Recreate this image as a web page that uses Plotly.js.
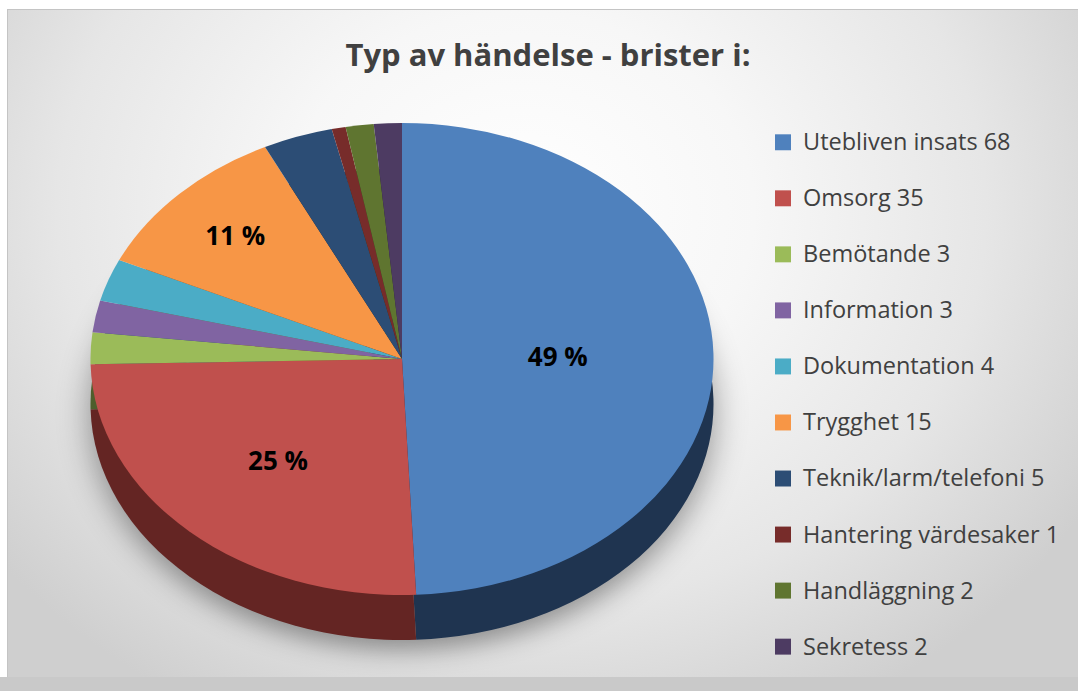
<!DOCTYPE html>
<html>
<head>
<meta charset="utf-8">
<script src="https://cdn.plot.ly/plotly-3.0.1.min.js"></script>
<style>
  html, body { margin: 0; padding: 0; background: #ffffff; width: 1078px; height: 691px; overflow: hidden; }
  #frame { position: absolute; left: 7px; top: 9px; width: 1070px; height: 668px;
    background: radial-gradient(ellipse 62% 85% at 48% 30%, #ffffff 0%, #f7f7f7 35%, #e6e6e6 70%, #cfcfcf 100%);
    border-top: 1px solid #c4c4c4; border-left: 1px solid #c4c4c4; }
  #band { position: absolute; left: 0; top: 677px; width: 1078px; height: 14px; background: #c9c9c9; }
  #chart { position: absolute; left: 0; top: 0; width: 1078px; height: 691px; }
</style>
</head>
<body>
<div id="frame"></div>
<div id="band"></div>
<div id="chart"></div>
<script>
// ---- data ----
const categories = ["Utebliven insats", "Omsorg", "Bemötande", "Information", "Dokumentation",
                    "Trygghet", "Teknik/larm/telefoni", "Hantering värdesaker", "Handläggning", "Sekretess"];
const values = [68, 35, 3, 3, 4, 15, 5, 1, 2, 2];
const topColors = ["#4F81BD", "#C0504D", "#9BBB59", "#8064A2", "#4BACC6",
                   "#F79646", "#2C4D75", "#772C2A", "#5F7530", "#4D3B62"];
const sideColors = ["#1F3450", "#642523", "#4E5E2C", "#403251", "#255663",
                    "#7B4B23", "#16263A", "#3B1615", "#2F3A18", "#261D31"];
const titleText = "Typ av händelse - brister i:";

const total = values.reduce((a, b) => a + b, 0);
const legendLabels = categories.map((c, i) =>
  " <br><span style='font-size:23.5px'>" + c + " " + values[i] + "</span>");
const pctText = values.map(v => (v / total >= 0.1 ? Math.round(v / total * 100) + " %" : ""));

const W = 1078, H = 691;
const cx = 402, cy = 359, R = 236, depth = 45, sx = 1.32;
function dom(cyPix) {
  return {
    x: [(cx - R) / W, (cx + R) / W],
    y: [1 - (cyPix + R) / H, 1 - (cyPix - R) / H]
  };
}

const sideTrace = {
  type: "pie",
  labels: legendLabels,
  values: values,
  sort: false,
  direction: "clockwise",
  rotation: 0,
  marker: { colors: sideColors, line: { width: 0 } },
  textinfo: "none",
  hoverinfo: "skip",
  showlegend: false,
  domain: dom(cy + depth)
};

const topTrace = {
  type: "pie",
  labels: legendLabels,
  values: values,
  sort: false,
  direction: "clockwise",
  rotation: 0,
  marker: { colors: topColors, line: { width: 0 } },
  text: pctText,
  textinfo: "text",
  textposition: "inside",
  insidetextorientation: "horizontal",
  textfont: { family: "'Open Sans', sans-serif", size: 26, color: "#000000", weight: "bold" },
  hoverinfo: "label+value+percent",
  domain: dom(cy)
};

const layout = {
  width: W, height: H,
  margin: { l: 0, r: 0, t: 0, b: 0 },
  paper_bgcolor: "rgba(0,0,0,0)",
  plot_bgcolor: "rgba(0,0,0,0)",
  title: {
    text: "<b>" + titleText + "</b>",
    x: 548 / W, xref: "paper", xanchor: "center",
    y: 1 - 55 / H, yref: "paper", yanchor: "middle",
    font: { family: "'Open Sans', sans-serif", size: 31, color: "#404040" }
  },
  showlegend: true,
  legend: {
    x: 763 / W, xanchor: "left",
    y: 1 - 96 / H, yanchor: "top",
    valign: "bottom",
    font: { family: "'Open Sans', sans-serif", size: 20.4, color: "#404040" },
    bgcolor: "rgba(0,0,0,0)",
    traceorder: "normal"
  }
};

Plotly.newPlot("chart", [sideTrace, topTrace], layout, { displayModeBar: false, staticPlot: true })
  .then(gd => {
    // tilt effect: stretch the pies horizontally about the pie centre, keep labels undistorted
    const traces = gd.querySelectorAll(".pielayer .trace");
    traces.forEach((g, i) => {
      g.setAttribute("transform", `translate(${cx},0) scale(${sx},1) translate(${-cx},0)`);
      if (i === 0) g.style.filter = "drop-shadow(0px 10px 12px rgba(0,0,0,0.38))";
    });
    gd.querySelectorAll(".pielayer .slicetext text").forEach(t => {
      const tr = t.getAttribute("transform") || "";
      const m = tr.match(/^\s*translate\([^)]*\)/);
      if (m) t.setAttribute("transform", m[0] + ` scale(${1 / sx},1) ` + tr.slice(m[0].length));
      else t.setAttribute("transform", `scale(${1 / sx},1) ` + tr);
    });
    // slightly larger legend swatches, as in the reference
    gd.querySelectorAll(".legend .legendpoints path").forEach(p => {
      const tr = p.getAttribute("transform") || "";
      p.setAttribute("transform", tr + " scale(1.33)");
    });
  });
</script>
</body>
</html>
